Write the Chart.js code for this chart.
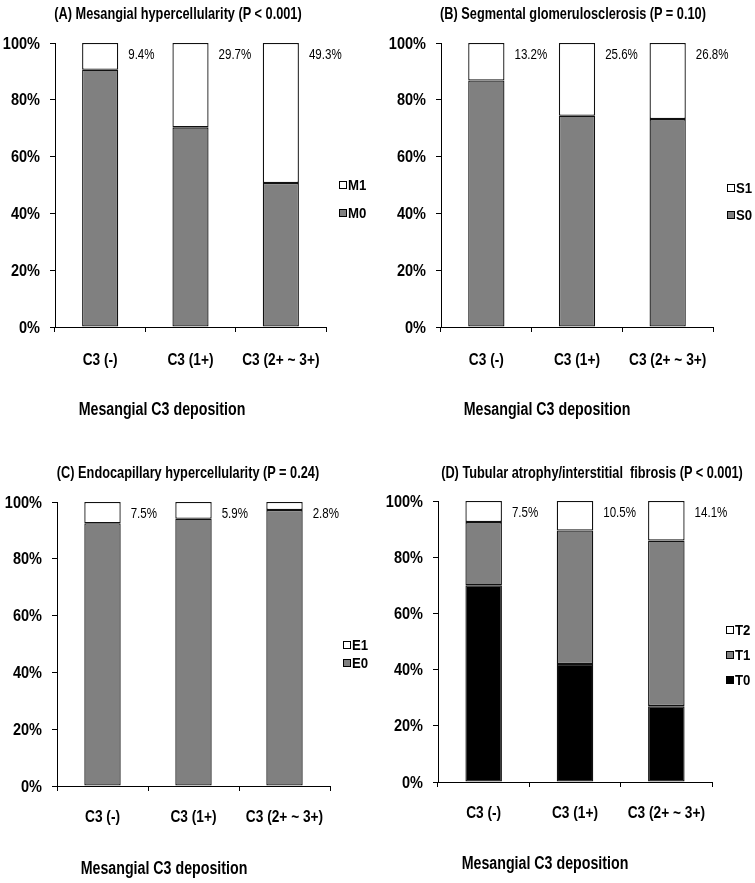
<!DOCTYPE html>
<html><head><meta charset="utf-8">
<script src="https://cdn.jsdelivr.net/npm/chart.js@4.4.0/dist/chart.umd.min.js"></script>
<style>
body{margin:0;background:#fff;width:755px;height:883px;position:relative;overflow:hidden;font-family:'Liberation Sans',Arial,sans-serif;}
canvas{position:absolute;}
.t{position:absolute;white-space:pre;font-weight:bold;color:#000;line-height:1;}
</style></head><body>
<script>
// ---- data ----
const categories = ['C3 (-)', 'C3 (1+)', 'C3 (2+ ~ 3+)'];
const yTickValues = [0, 20, 40, 60, 80, 100];
const xAxisTitle = 'Mesangial C3 deposition';
const titles = [
  '(A) Mesangial hypercellularity (P < 0.001)',
  '(B) Segmental glomerulosclerosis (P = 0.10)',
  '(C) Endocapillary hypercellularity (P = 0.24)',
  '(D) Tubular atrophy/interstitial  fibrosis (P < 0.001)'
];
const M0 = [90.6, 70.3, 50.7];
const M1 = [9.4, 29.7, 49.3];
const S0 = [86.8, 74.4, 73.2];
const S1 = [13.2, 25.6, 26.8];
const E0 = [92.5, 94.1, 97.2];
const E1 = [7.5, 5.9, 2.8];
const T0 = [70.0, 42.0, 27.0];
const T1 = [22.5, 47.5, 58.9];
const T2 = [7.5, 10.5, 14.1];

// ---- styles / layout ----
const GRAY = '#808080', WHITE = '#ffffff', BLACK = '#000000';
const FONT = "'Liberation Sans',Arial,sans-serif";

const panels = [
  { series: [['M0', M0, GRAY], ['M1', M1, WHITE]], left: 0, top: 0, w: 378, h: 440,
    area: { l: 55, t: 43, r: 326, b: 327 }, legDX: 13, legDY: [170, 142], xLab: 33,
    title: [178, 13], axTitle: [162, 409] },
  { series: [['S0', S0, GRAY], ['S1', S1, WHITE]], left: 378, top: 0, w: 377, h: 440,
    area: { l: 63, t: 43, r: 335, b: 327 }, legDX: 14, legDY: [172, 145], xLab: 33,
    title: [573, 13], axTitle: [547, 409] },
  { series: [['E0', E0, GRAY], ['E1', E1, WHITE]], left: 0, top: 440, w: 378, h: 443,
    area: { l: 57, t: 62, r: 330, b: 346 }, legDX: 13, legDY: [161, 143], xLab: 31,
    title: [188, 472], axTitle: [164, 868] },
  { series: [['T0', T0, BLACK], ['T1', T1, GRAY], ['T2', T2, WHITE]], left: 378, top: 440, w: 377, h: 443,
    area: { l: 60, t: 61, r: 334, b: 342 }, legDX: 14, legDY: [179, 154, 129], xLab: 31,
    title: [592, 472], axTitle: [545, 863] }
];

function narrowText(ctx, text, x, y, sx) {
  ctx.save();
  ctx.translate(x, y);
  ctx.scale(sx, 1);
  ctx.fillText(text, 0, 0);
  ctx.restore();
}

const tickLabelPlugin = {
  id: 'tickLabels',
  afterDraw(chart, args, opts) {
    const ctx = chart.ctx, a = chart.chartArea;
    const xs = chart.scales.x, ys = chart.scales.y;
    ctx.save();
    ctx.fillStyle = '#000';
    ctx.textBaseline = 'middle';
    ctx.font = 'bold 16.5px ' + FONT;
    ctx.textAlign = 'right';
    yTickValues.forEach(v => narrowText(ctx, v + '%', a.left - 15, ys.getPixelForValue(v) + 1, 0.88));
    ctx.font = 'bold 16.5px ' + FONT;
    ctx.textAlign = 'center';
    categories.forEach((c, i) => narrowText(ctx, c, xs.getPixelForTick(i), a.bottom + opts.dy, 0.83));
    ctx.restore();
  }
};

const valueLabelPlugin = {
  id: 'valueLabels',
  afterDatasetsDraw(chart) {
    const ctx = chart.ctx;
    const last = chart.data.datasets.length - 1;
    const meta = chart.getDatasetMeta(last);
    const y100 = chart.scales.y.getPixelForValue(100);
    ctx.save();
    ctx.font = '15px ' + FONT;
    ctx.fillStyle = '#000';
    ctx.textAlign = 'left';
    ctx.textBaseline = 'middle';
    meta.data.forEach((bar, i) => {
      const v = chart.data.datasets[last].data[i];
      narrowText(ctx, v.toFixed(1) + '%', bar.x + bar.width / 2 + 10, y100 + 12, 0.77);
    });
    ctx.restore();
  }
};

const customLegendPlugin = {
  id: 'customLegend',
  afterDraw(chart, args, opts) {
    const ctx = chart.ctx;
    const a = chart.chartArea;
    ctx.save();
    ctx.font = 'bold 15px ' + FONT;
    ctx.textAlign = 'left';
    ctx.textBaseline = 'middle';
    chart.data.datasets.forEach((ds, i) => {
      const x = a.right + opts.dx;
      const y = a.top + opts.dy[i];
      ctx.fillStyle = ds.backgroundColor;
      ctx.fillRect(x, y - 4, 8, 8);
      ctx.strokeStyle = '#000';
      ctx.lineWidth = 1;
      ctx.strokeRect(x + 0.5, y - 3.5, 7, 7);
      ctx.fillStyle = '#000';
      narrowText(ctx, ds.label, x + 9, y + 1, 0.88);
    });
    ctx.restore();
  }
};

function addText(txt, cx, cy, size, scale) {
  const d = document.createElement('div');
  d.className = 't';
  d.style.fontSize = size + 'px';
  d.style.left = cx + 'px';
  d.style.top = cy + 'px';
  d.style.transform = 'translate(-50%,-50%) scaleX(' + scale + ')';
  d.textContent = txt;
  document.body.appendChild(d);
}

panels.forEach((p, idx) => {
  const cv = document.createElement('canvas');
  cv.width = p.w; cv.height = p.h;
  cv.style.left = p.left + 'px'; cv.style.top = p.top + 'px';
  cv.style.width = p.w + 'px'; cv.style.height = p.h + 'px';
  document.body.appendChild(cv);

  addText(titles[idx], p.title[0], p.title[1], 17, 0.75);
  addText(xAxisTitle, p.axTitle[0], p.axTitle[1], 18, 0.79);

  new Chart(cv, {
    type: 'bar',
    data: {
      labels: categories,
      datasets: p.series.map(s => ({
        label: s[0], data: s[1], backgroundColor: s[2],
        borderColor: '#111', borderWidth: 1.3, borderSkipped: false,
        barPercentage: 0.4, categoryPercentage: 1.0
      }))
    },
    options: {
      responsive: false, animation: false, devicePixelRatio: 1,
      layout: { padding: { left: 0, top: p.area.t, right: p.w - p.area.r, bottom: 0 } },
      plugins: {
        legend: { display: false }, tooltip: { enabled: false },
        customLegend: { dx: p.legDX, dy: p.legDY },
        tickLabels: { dy: p.xLab }
      },
      scales: {
        x: {
          stacked: true, offset: true,
          grid: { offset: true, drawOnChartArea: false, drawTicks: true, tickLength: 5, color: '#000', lineWidth: 1 },
          border: { display: true, color: '#000', width: 1 },
          ticks: { display: false },
          afterFit(s) { s.height = p.h - p.area.b; }
        },
        y: {
          stacked: true, min: 0, max: 100,
          afterBuildTicks(s) { s.ticks = yTickValues.map(v => ({ value: v })); },
          grid: { drawOnChartArea: false, drawTicks: true, tickLength: 5, color: '#000', lineWidth: 1 },
          border: { display: true, color: '#000', width: 1 },
          ticks: { display: false },
          afterFit(s) { s.width = p.area.l; }
        }
      }
    },
    plugins: [valueLabelPlugin, customLegendPlugin, tickLabelPlugin]
  });
});
</script>
</body></html>
